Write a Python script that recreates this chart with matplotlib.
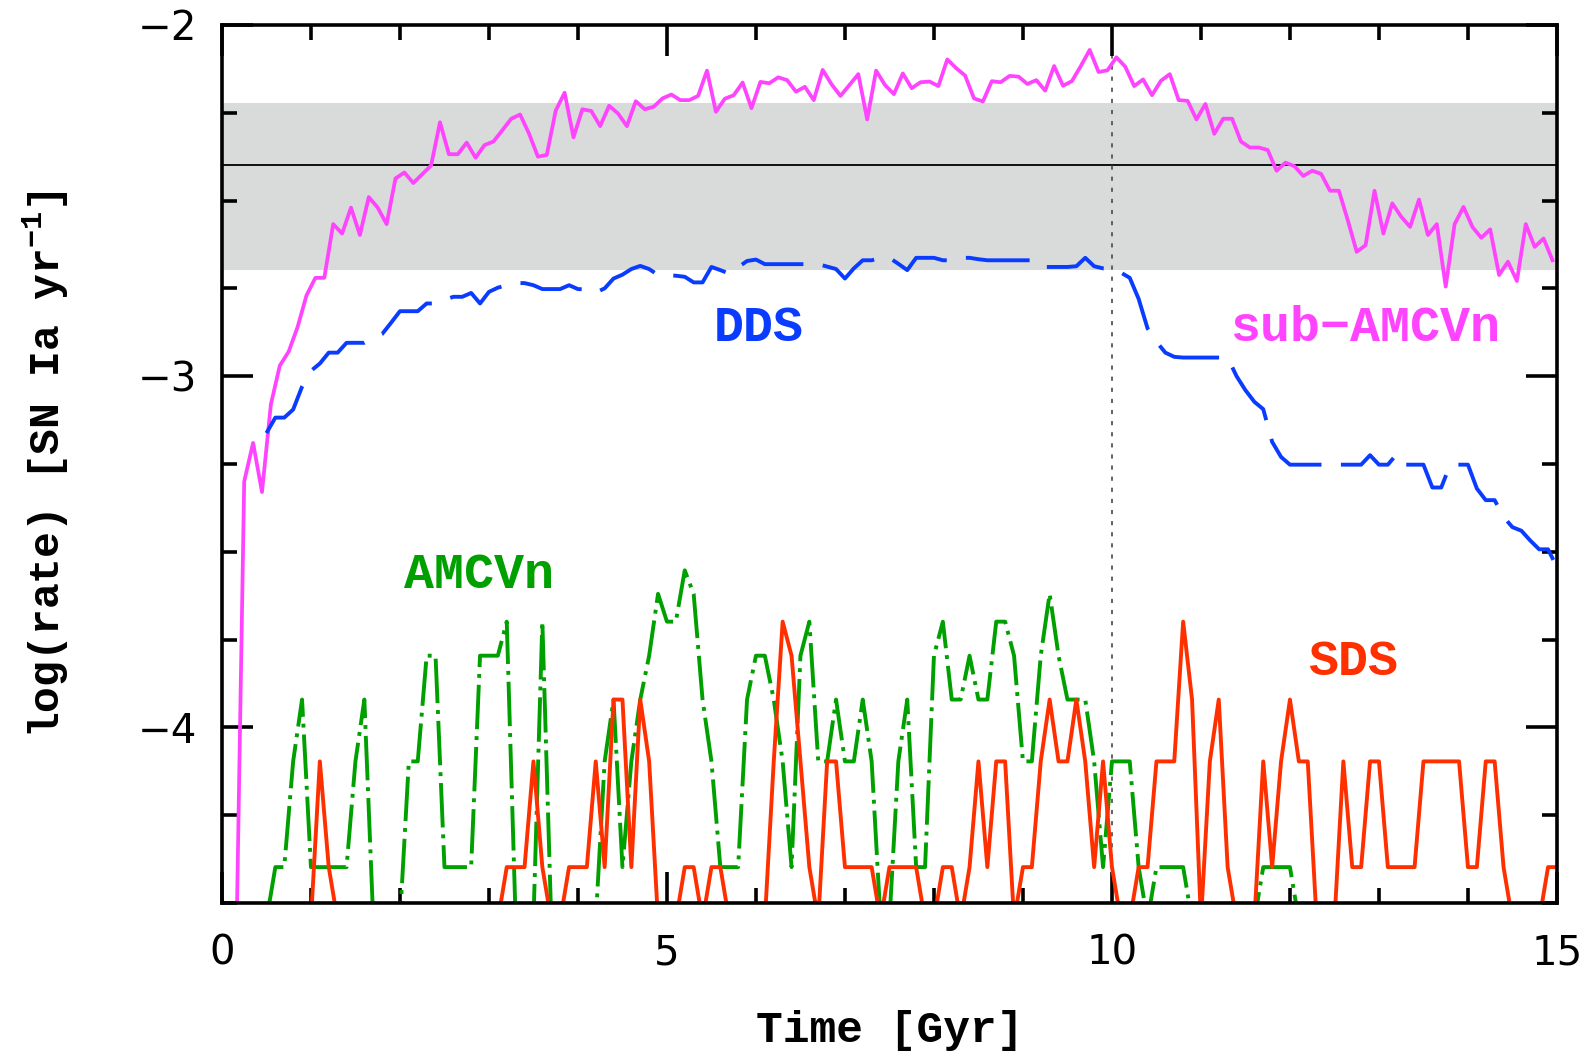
"""
SN Ia rate vs time for four progenitor channels (DDS, sub-AMCVn, AMCVn, SDS).
"""
import matplotlib

matplotlib.use("Agg")
import matplotlib.pyplot as plt
import numpy as np

# ---- data ----
# one event in a 0.1 Gyr bin corresponds to this rate
RATE_UNIT = 4e-5
LOG_FLOOR = -4.55  # where empty bins are drawn (just below the axis)

# SDS / AMCVn: number of events per bin, bins at t = 0.0, 0.1, ..., 15.0
sds_counts = [
    0, 0, 0, 0, 0, 0, 0, 0, 0, 0,
    0, 2, 1, 0, 0, 0, 0, 0, 0, 0,
    0, 0, 0, 0, 0, 0, 0, 0, 0, 0,
    0, 0, 1, 1, 1, 2, 1, 0, 0, 1,
    1, 1, 2, 1, 3, 3, 1, 3, 2, 0,
    0, 0, 1, 1, 0, 1, 1, 0, 0, 0,
    0, 0, 2, 5, 4, 2, 1, 0, 2, 2,
    1, 1, 1, 1, 0, 1, 1, 1, 1, 0,
    0, 1, 1, 0, 1, 2, 1, 2, 2, 0,
    1, 1, 2, 3, 2, 2, 3, 2, 1, 2,
    1, 0, 0, 1, 1, 2, 2, 2, 5, 3,
    0, 2, 3, 1, 0, 0, 0, 2, 1, 2,
    3, 2, 2, 0, 0, 0, 2, 1, 1, 2,
    2, 1, 1, 1, 1, 2, 2, 2, 2, 2,
    1, 1, 2, 2, 1, 0, 0, 0, 0, 1,
    1,
]

amcvn_counts = [
    0, 0, 0, 0, 0, 0, 1, 1, 2, 3,
    1, 1, 1, 1, 1, 2, 3, 0, 0, 0,
    0, 2, 2, 4, 4, 1, 1, 1, 1, 4,
    4, 4, 5, 0, 0, 0, 5, 0, 0, 0,
    0, 0, 0, 2, 3, 1, 2, 3, 4, 6,
    5, 5, 7, 6, 3, 2, 1, 1, 1, 3,
    4, 4, 3, 2, 1, 4, 5, 2, 2, 3,
    2, 2, 3, 2, 0, 0, 2, 3, 1, 1,
    4, 5, 3, 3, 4, 3, 3, 5, 5, 4,
    2, 2, 4, 6, 4, 3, 3, 3, 2, 1,
    2, 2, 2, 1, 0, 1, 1, 1, 1, 0,
    0, 0, 0, 0, 0, 0, 0, 1, 1, 1,
    1, 0, 0, 0, 0, 0, 0, 0, 0, 0,
    0, 0, 0, 0, 0, 0, 0, 0, 0, 0,
    0, 0, 0, 0, 0, 0, 0, 0, 0, 0,
    0,
]

# DDS: log rate, bins at t = 0.5, 0.6, ..., 15.0
dds_lograte = [
    -3.162, -3.118, -3.118, -3.095, -3.030,
    -2.985, -2.964, -2.933, -2.933, -2.905, -2.905, -2.905, -2.892, -2.880, -2.848,
    -2.815, -2.815, -2.815, -2.793, -2.793, -2.783, -2.774, -2.774, -2.763, -2.793,
    -2.760, -2.748, -2.741, -2.735, -2.735, -2.741, -2.752, -2.752, -2.752, -2.741,
    -2.752, -2.753, -2.762, -2.750, -2.722, -2.711, -2.695, -2.686, -2.695, -2.712,
    -2.712, -2.714, -2.717, -2.733, -2.733, -2.689, -2.698, -2.708, -2.690, -2.672,
    -2.668, -2.681, -2.681, -2.681, -2.681, -2.681, -2.681, -2.681, -2.688, -2.695,
    -2.722, -2.693, -2.670, -2.670, -2.663, -2.663, -2.680, -2.698, -2.663, -2.663,
    -2.663, -2.670, -2.670, -2.663, -2.663, -2.667, -2.670, -2.670, -2.670, -2.670,
    -2.670, -2.670, -2.689, -2.689, -2.689, -2.689, -2.687, -2.663, -2.687, -2.693,
    -2.695, -2.705, -2.720, -2.780, -2.864, -2.902, -2.933, -2.945, -2.947, -2.947,
    -2.947, -2.947, -2.947, -2.947, -3.000, -3.040, -3.073, -3.094, -3.187, -3.230,
    -3.252, -3.252, -3.252, -3.252, -3.252, -3.252, -3.252, -3.252, -3.252, -3.225,
    -3.252, -3.252, -3.222, -3.252, -3.252, -3.252, -3.317, -3.317, -3.252, -3.252,
    -3.252, -3.320, -3.353, -3.353, -3.401, -3.430, -3.440, -3.468, -3.493, -3.493,
    -3.544,
]

# sub-AMCVn: log rate, bins at t = 0.05, 0.15, ..., 14.95
subamcvn_lograte = [
    -7.000, -4.800, -3.300, -3.190, -3.330, -3.080, -2.970, -2.930, -2.860, -2.770,
    -2.720, -2.720, -2.567, -2.594, -2.520, -2.598, -2.490, -2.520, -2.567, -2.437,
    -2.420, -2.450, -2.425, -2.400, -2.277, -2.368, -2.368, -2.335, -2.378, -2.342,
    -2.332, -2.300, -2.267, -2.255, -2.309, -2.375, -2.370, -2.244, -2.193, -2.320,
    -2.240, -2.245, -2.288, -2.230, -2.252, -2.288, -2.217, -2.240, -2.233, -2.209,
    -2.198, -2.214, -2.214, -2.202, -2.130, -2.247, -2.210, -2.200, -2.164, -2.237,
    -2.162, -2.166, -2.149, -2.157, -2.190, -2.176, -2.214, -2.128, -2.169, -2.202,
    -2.171, -2.140, -2.269, -2.130, -2.171, -2.197, -2.138, -2.180, -2.163, -2.161,
    -2.174, -2.098, -2.123, -2.144, -2.209, -2.218, -2.160, -2.163, -2.145, -2.147,
    -2.168, -2.157, -2.187, -2.117, -2.173, -2.160, -2.117, -2.071, -2.134, -2.129,
    -2.092, -2.119, -2.174, -2.155, -2.200, -2.159, -2.140, -2.214, -2.216, -2.269,
    -2.225, -2.310, -2.267, -2.267, -2.332, -2.349, -2.349, -2.356, -2.415, -2.392,
    -2.402, -2.430, -2.415, -2.424, -2.472, -2.472, -2.556, -2.646, -2.627, -2.472,
    -2.594, -2.508, -2.546, -2.575, -2.497, -2.598, -2.567, -2.745, -2.567, -2.518,
    -2.575, -2.606, -2.582, -2.712, -2.674, -2.729, -2.567, -2.632, -2.608, -2.670,
]

# observed rate (2-6 x 10^-3 per yr, central 4 x 10^-3)
obs_rate = 4e-3
obs_low, obs_high = 2e-3, 6e-3
t_marker = 10.0

COL_SUB = "#ff44ff"
COL_DDS = "#0a3cff"
COL_AM = "#00a000"
COL_SDS = "#ff3000"

MONO = ["Liberation Mono", "DejaVu Sans Mono"]


def counts_to_log(counts):
    c = np.asarray(counts, dtype=float)
    out = np.full(c.shape, LOG_FLOOR)
    pos = c > 0
    out[pos] = np.log10(c[pos] * RATE_UNIT)
    return out


def main() -> None:
    plt.rcParams["lines.scale_dashes"] = False
    plt.rcParams["mathtext.fontset"] = "custom"
    plt.rcParams["mathtext.rm"] = "Liberation Mono:bold"
    plt.rcParams["mathtext.it"] = "Liberation Mono:bold"
    plt.rcParams["mathtext.bf"] = "Liberation Mono:bold"

    fig = plt.figure(figsize=(15.91, 10.54), dpi=100)
    ax = fig.add_axes([0.1395, 0.1433, 0.8391, 0.833])

    t_bins = 0.1 * np.arange(len(sds_counts))
    t_dds = 0.5 + 0.1 * np.arange(len(dds_lograte))
    t_sub = 0.05 + 0.1 * np.arange(len(subamcvn_lograte))

    ax.axhspan(np.log10(obs_low), np.log10(obs_high), color="#d9dada", lw=0, zorder=0)
    ax.axhline(np.log10(obs_rate), color="black", lw=1.3, zorder=1)
    ax.axvline(t_marker, color="#555555", lw=1.3, ls=(0, (3, 5)), zorder=1)

    ax.plot(t_sub, subamcvn_lograte, color=COL_SUB, lw=2.7, zorder=3)
    ax.plot(t_dds, dds_lograte, color=COL_DDS, lw=2.8, dashes=(46, 14), zorder=3)
    ax.plot(t_bins, counts_to_log(amcvn_counts), color=COL_AM, lw=2.8,
            dashes=(32, 5, 2.8, 5), zorder=3)
    ax.plot(t_bins, counts_to_log(sds_counts), color=COL_SDS, lw=2.8, zorder=4)

    ax.set_xlim(0, 15)
    ax.set_ylim(-4.5, -2)
    ax.set_xticks([0, 5, 10, 15])
    ax.set_xticks(np.arange(0, 16, 1), minor=True)
    ax.set_yticks([-4, -3, -2])
    ax.set_yticks(np.arange(-4.5, -1.99, 0.25), minor=True)
    ax.set_xticklabels(["0", "5", "10", "15"])
    ax.set_yticklabels(["\u22124", "\u22123", "\u22122"])
    ax.tick_params(which="both", direction="in", top=True, right=True, width=2.6)
    ax.tick_params(which="major", length=22, labelsize=29)
    ax.tick_params(axis="x", which="major", pad=22)
    ax.tick_params(axis="y", which="major", pad=18)
    ax.tick_params(which="minor", length=11)
    for lab in ax.get_xticklabels() + ax.get_yticklabels():
        lab.set_family(["DejaVu Sans"])
    for s in ax.spines.values():
        s.set_linewidth(2.6)
        s.set_zorder(5)

    ax.set_xlabel("Time [Gyr]", fontsize=32, family=MONO, weight="bold", labelpad=26)
    ax.set_ylabel("log(rate) [SN Ia yr$^{-1}$]", fontsize=31, family=MONO,
                  weight="bold", labelpad=48)

    labels = [
        ("DDS", 6.03, -2.863, COL_DDS),
        ("sub\u2212AMCVn", 12.84, -2.863, COL_SUB),
        ("AMCVn", 2.89, -3.567, COL_AM),
        ("SDS", 12.71, -3.815, COL_SDS),
    ]
    for text, x, y, c in labels:
        ax.text(x, y, text, color=c, fontsize=36, family=MONO, weight="bold",
                ha="center", va="center", zorder=6)

    fig.savefig("out.png", dpi=100)
    plt.close(fig)


if __name__ == "__main__":
    main()
